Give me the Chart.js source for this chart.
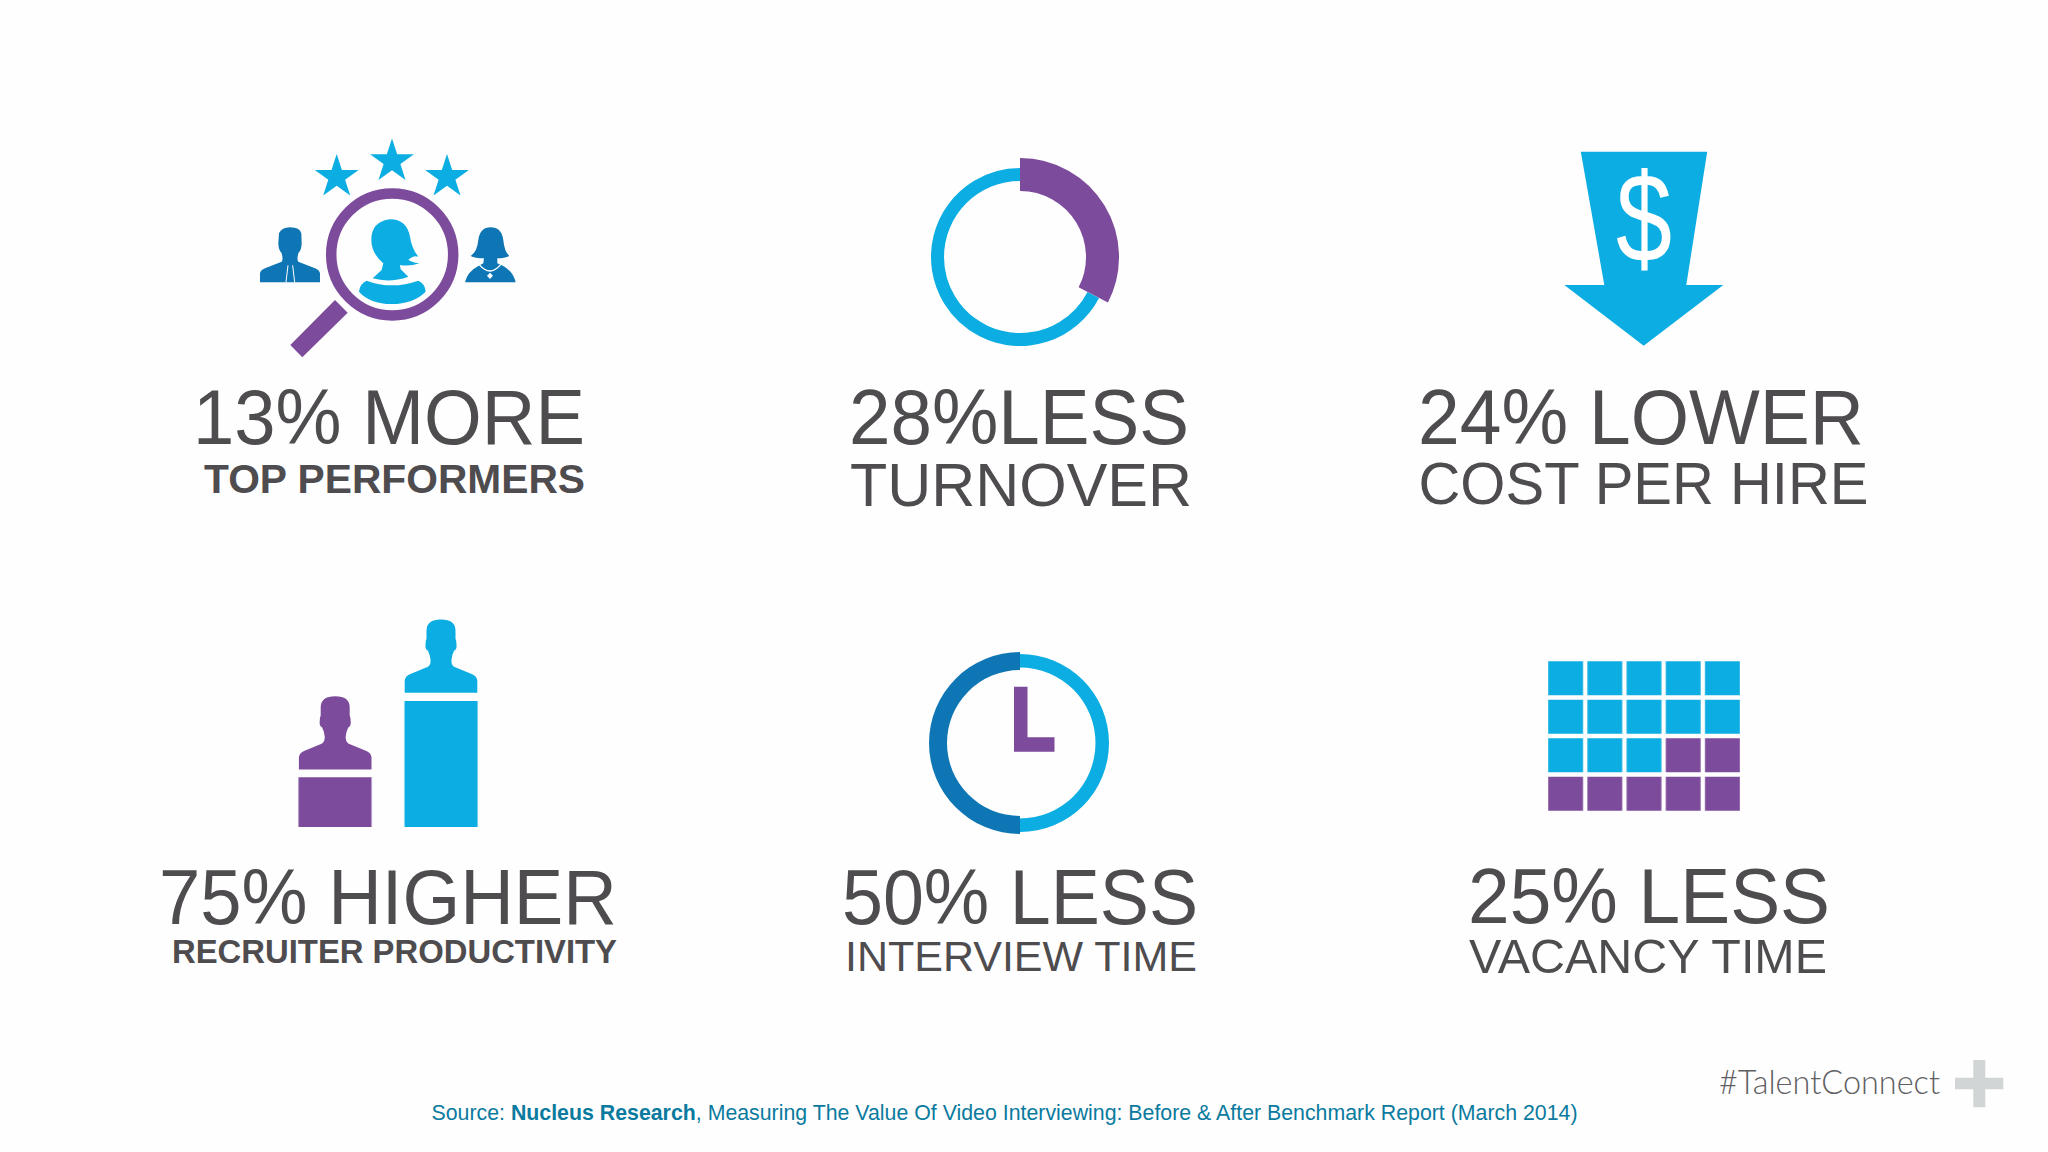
<!DOCTYPE html>
<html>
<head>
<meta charset="utf-8">
<title>Video interviewing benchmark</title>
<script src="https://cdn.jsdelivr.net/npm/chart.js@4"></script>
<style>
  html, body { margin: 0; padding: 0; background: #fefefe; }
  #page { position: relative; width: 2048px; height: 1152px; overflow: hidden; }
  #page canvas, #page svg { position: absolute; }
  text { font-family: "Liberation Sans", Arial, sans-serif; fill: #4e4c4f; }
</style>
</head>
<body>
<div id="page">
  <!-- iconos y textos fijos -->
  <svg id="icons" width="2048" height="1152" viewBox="0 0 2048 1152" style="left:0;top:0">
    <defs>
      <polygon id="star" points="0,-23 5.2,-7.1 21.9,-7.1 8.4,2.7 13.5,18.6 0,8.8 -13.5,18.6 -8.4,2.7 -21.9,-7.1 -5.2,-7.1"/>
      <path id="man" d="M-36.3 0 V-12 Q-36 -17 -30 -19 L-13 -26 Q-10 -28 -10.5 -33 Q-11 -38 -13 -42 Q-16 -43 -15.5 -48 Q-15.5 -52 -14.5 -54 L-14.5 -62 Q-14.5 -73.3 0 -73.3 Q14.5 -73.3 14.5 -62 L14.5 -54 Q15.5 -52 15.5 -48 Q16 -43 13 -42 Q11 -38 10.5 -33 Q10 -28 13 -26 L30 -19 Q36 -17 36.3 -12 V0 Z"/>
    </defs>

    <!-- lupa con estrellas -->
    <g fill="#0cade2">
      <use href="#star" x="336.7" y="177"/>
      <use href="#star" x="392" y="161.4"/>
      <use href="#star" x="447" y="177"/>
    </g>
    <circle cx="392.2" cy="254.5" r="61" fill="none" stroke="#7d4b9c" stroke-width="10.5"/>
    <polygon points="335,300 347.7,312.7 302.3,357.3 290.3,345" fill="#7d4b9c"/>
    <g transform="translate(230,120) scale(0.3333)">
      <path fill="#0cade2" d="M424 360 Q424 305 480 298 Q530 298 540 350 Q545 385 565 410 Q550 405 535 420 Q555 430 568 430 Q540 440 510 435 L512 448 L535 470 Q480 490 428 475 L455 450 L460 430 Q424 400 424 360 Z"/>
      <path fill="#0cade2" d="M410 482 Q485 510 565 482 Q585 490 587 515 Q550 552 485 552 Q420 552 387 515 Q390 490 410 482 Z"/>
      <path fill="#0e76b5" d="M90 487 V460 Q92 450 105 445 L155 425 Q160 420 155 400 Q145 390 145 370 L147 340 Q155 322 180 322 Q210 322 214 340 L215 370 Q215 390 205 400 Q200 420 205 425 L255 445 Q268 450 270 460 V487 Z"/>
      <path stroke="#fff" stroke-width="3" fill="none" d="M174 436 L168 487 M188 436 L194 487"/>
      <path fill="#0e76b5" d="M705 487 Q712 455 745 438 L760 430 L762 415 Q735 415 722 408 Q742 395 745 360 Q750 322 782 322 Q815 322 820 360 Q823 395 838 408 Q825 415 802 415 L802 430 L820 438 Q850 455 857 487 Z"/>
      <path stroke="#fff" stroke-width="4" fill="none" d="M748 434 Q780 472 812 434"/>
      <polygon fill="#fff" points="780,458 789,467 780,477 771,467"/>
    </g>

    <!-- flecha con dolar -->
    <polygon fill="#0cade2" points="1580.8,151.7 1707.2,151.7 1686.3,285 1723.3,285 1643.7,345.7 1564.3,285 1604.3,285"/>
    <text x="1616" y="262" font-size="126" textLength="56" lengthAdjust="spacingAndGlyphs" style="fill:#fff">$</text>

    <!-- siluetas sobre las barras -->
    <use href="#man" x="441" y="692.7" fill="#0cade2"/>
    <use href="#man" x="335.2" y="769.5" fill="#7d4b9c"/>

    <!-- manecillas del reloj -->
    <polygon fill="#7d4b9c" points="1014,686.7 1027.5,686.7 1027.5,737.3 1054.5,737.3 1054.5,751.7 1014,751.7"/>

    <g id="captions"></g>

    <text id="source" x="431.5" y="1120" font-size="21.5" textLength="1146" lengthAdjust="spacingAndGlyphs" style="fill:#0a7a9e"></text>
    <text id="tag" x="1719" y="1094" font-size="34" textLength="221" lengthAdjust="spacingAndGlyphs" style="font-family:Lato;font-weight:300;fill:#5f6063"></text>
    <path fill="#d1d5d6" d="M1973.3 1060 H1985.3 V1077.7 H2003.3 V1089.3 H1985.3 V1107.3 H1973.3 V1089.3 H1955 V1077.7 H1973.3 Z"/>
  </svg>
</div>

<script>
// Datos
const headlines = ['13% MORE', '28%LESS', '24% LOWER', '75% HIGHER', '50% LESS', '25% LESS'];
const subheads = ['TOP PERFORMERS', 'TURNOVER', 'COST PER HIRE', 'RECRUITER PRODUCTIVITY', 'INTERVIEW TIME', 'VACANCY TIME'];
const turnoverShare = [32.6, 67.4];
const interviewShare = [50, 50];
const productivityLabels = ['Before', 'After'];
const productivityValues = [39.5, 100];
const vacancyColumns = ['1', '2', '3', '4', '5'];
const vacancyFilled = [1, 1, 1, 2, 2];
const sourceStart = 'Source: ';
const sourceName = 'Nucleus Research';
const sourceRest = ', Measuring The Value Of Video Interviewing: Before & After Benchmark Report (March 2014)';
const hashtag = '#TalentConnect';

const BLUE = '#0cade2';
const DARK_BLUE = '#0e76b5';
const PURPLE = '#7d4b9c';

// Posicion de cada texto: x, ancho, linea base, tamano
const headlineBoxes = [
  [193, 392, 444, 77], [849, 340, 444, 77], [1418, 446, 444, 77],
  [159, 458, 924, 77], [842, 356, 924, 77], [1468, 362, 922.5, 77]
];
const subheadBoxes = [
  [204, 381, 492.7, 41, 700], [850, 342, 506, 62, 400], [1418.5, 450, 504, 60, 400],
  [172, 445, 963.3, 34, 700], [845, 352, 970.7, 43, 400], [1469, 358, 972.7, 48, 400]
];

function addText(parent, str, box, weight) {
  var t = document.createElementNS('http://www.w3.org/2000/svg', 'text');
  t.setAttribute('x', box[0]);
  t.setAttribute('textLength', box[1]);
  t.setAttribute('lengthAdjust', 'spacingAndGlyphs');
  t.setAttribute('y', box[2]);
  t.setAttribute('font-size', box[3]);
  t.setAttribute('font-weight', weight);
  t.textContent = str;
  parent.appendChild(t);
}

const captions = document.getElementById('captions');
headlines.forEach((s, i) => addText(captions, s, headlineBoxes[i], 400));
subheads.forEach((s, i) => addText(captions, s, subheadBoxes[i], subheadBoxes[i][4]));

const source = document.getElementById('source');
source.innerHTML = sourceStart + '<tspan font-weight="700"></tspan>';
source.querySelector('tspan').textContent = sourceName;
source.appendChild(document.createTextNode(sourceRest));
document.getElementById('tag').textContent = hashtag;

function addCanvas(left, top, width, height) {
  var c = document.createElement('canvas');
  c.width = width;
  c.height = height;
  c.style.left = left + 'px';
  c.style.top = top + 'px';
  c.style.width = width + 'px';
  c.style.height = height + 'px';
  document.getElementById('page').appendChild(c);
  return c;
}

// Un anillo centrado en (cx, cy)
function ring(cx, cy, outer, inner, values, colors) {
  var c = addCanvas(cx - outer, cy - outer, outer * 2, outer * 2);
  return new Chart(c, {
    type: 'doughnut',
    data: { datasets: [{ data: values, backgroundColor: colors, borderWidth: 0 }] },
    options: {
      responsive: false,
      animation: false,
      cutout: inner,
      layout: { padding: 0 },
      plugins: { legend: { display: false }, tooltip: { enabled: false } }
    }
  });
}

// Rotacion
ring(1019.6, 257, 89, 76, turnoverShare, ['transparent', BLUE]);
ring(1019.6, 257, 99, 66, turnoverShare, [PURPLE, 'transparent']);

// Reloj
ring(1020.2, 743, 89, 75.5, interviewShare, [BLUE, 'transparent']);
ring(1020.2, 743, 91, 73, interviewShare, ['transparent', DARK_BLUE]);

// Barras de productividad
new Chart(addCanvas(282.3, 701, 211.6, 126), {
  type: 'bar',
  data: {
    labels: productivityLabels,
    datasets: [{
      data: productivityValues,
      backgroundColor: [PURPLE, BLUE],
      barPercentage: 0.69,
      categoryPercentage: 1
    }]
  },
  options: {
    responsive: false,
    animation: false,
    layout: { padding: 0 },
    scales: {
      x: { display: false },
      y: { display: false, min: 0, max: 100 }
    },
    plugins: { legend: { display: false }, tooltip: { enabled: false } }
  }
});

// Cuadricula de vacantes: una serie por fila, de abajo hacia arriba
const vacancyRows = [0, 1, 2, 3].map(row => ({
  data: vacancyColumns.map(() => 1),
  backgroundColor: vacancyFilled.map(n => row < n ? PURPLE : BLUE),
  borderColor: '#fefefe',
  borderWidth: 2.5,
  borderSkipped: false,
  barPercentage: 1,
  categoryPercentage: 1
}));

new Chart(addCanvas(1546, 658.5, 195.5, 154.5), {
  type: 'bar',
  data: { labels: vacancyColumns, datasets: vacancyRows },
  options: {
    responsive: false,
    animation: false,
    layout: { padding: 0 },
    scales: {
      x: { display: false, stacked: true },
      y: { display: false, stacked: true, min: 0, max: 4 }
    },
    plugins: { legend: { display: false }, tooltip: { enabled: false } }
  }
});
</script>
</body>
</html>
